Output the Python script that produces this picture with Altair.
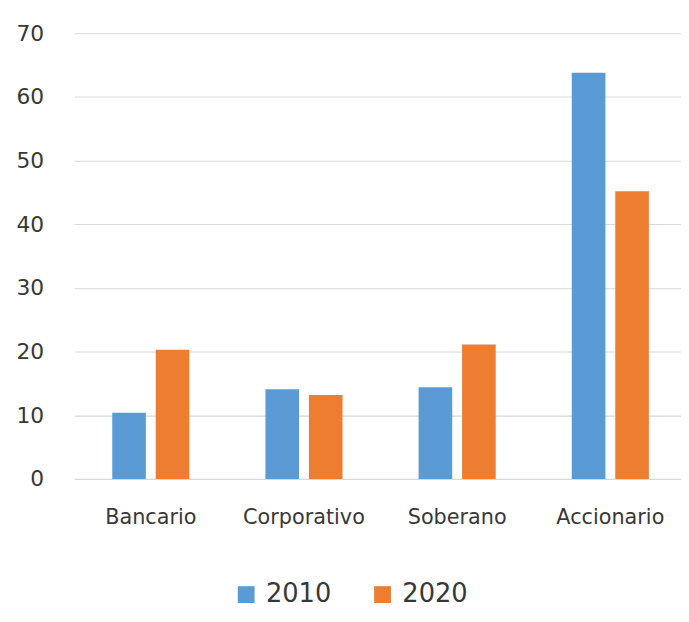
import altair as alt
import pandas as pd

categories = ["Bancario", "Corporativo", "Soberano", "Accionario"]
years = ["2010", "2020"]
values_2010 = [10.4, 14.1, 14.4, 63.8]
values_2020 = [20.3, 13.2, 21.1, 45.2]
colors = ["#5B9BD5", "#ED7D31"]

rows = []
for c, v in zip(categories, values_2010):
    rows.append({"cat": c, "year": "2010", "value": v})
for c, v in zip(categories, values_2020):
    rows.append({"cat": c, "year": "2020", "value": v})
df = pd.DataFrame(rows)

FONT = "DejaVu Sans"
TXT = "#383838"

chart = alt.Chart(df).mark_bar().encode(
    x=alt.X("cat:N", sort=categories, title=None,
            scale=alt.Scale(paddingInner=0, paddingOuter=0, rangeMax=620),
            axis=alt.Axis(labelAngle=0, ticks=False, domain=False, grid=False,
                          labelFont=FONT, labelFontSize=21, labelColor=TXT,
                          labelPadding=28)),
    xOffset=alt.XOffset("year:N", sort=years,
                        scale=alt.Scale(paddingInner=0.227, paddingOuter=0.875)),
    y=alt.Y("value:Q", title=None,
            scale=alt.Scale(domain=[0, 70], nice=False),
            axis=alt.Axis(values=[0, 10, 20, 30, 40, 50, 60, 70], ticks=False,
                          domain=False, grid=True, gridColor="#d9d9d9",
                          gridWidth=1.2, labelFont=FONT, labelFontSize=22,
                          labelColor=TXT, labelPadding=31)),
    color=alt.Color("year:N", sort=years,
                    scale=alt.Scale(domain=years, range=colors),
                    legend=alt.Legend(title=None, orient="none", direction="horizontal",
                                      legendX=161, legendY=555,
                                      symbolType="square", symbolSize=289,
                                      symbolStrokeWidth=0,
                                      labelFont=FONT, labelFontSize=26,
                                      labelColor=TXT, labelOffset=7,
                                      columnPadding=38)),
).properties(
    width=614,
    height=451,
    background="white",
    autosize=alt.AutoSizeParams(type="none"),
    padding={"left": 67, "top": 22, "right": 0, "bottom": 127},
).configure_view(stroke=None)

chart.save("out.html", embed_options={"renderer": "svg", "actions": False})
